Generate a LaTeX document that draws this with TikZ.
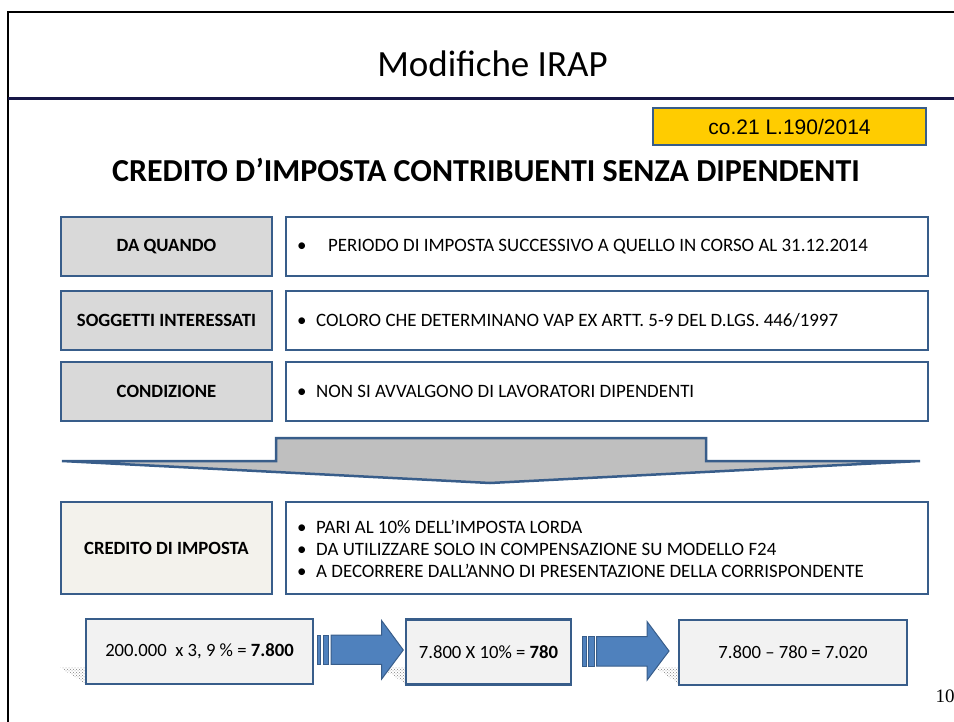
\documentclass[tikz,border=0pt]{standalone}
\usepackage{fontspec}
\setmainfont{Carlito}
\newfontfamily\arialfont{Liberation Sans}
\newfontfamily\seriffont{Liberation Serif}
\usetikzlibrary{patterns}
\definecolor{bordo}{RGB}{56,93,138}
\definecolor{lgray}{RGB}{217,217,217}
\definecolor{cream}{RGB}{243,242,236}
\definecolor{pale}{RGB}{242,242,242}
\definecolor{arrowblue}{RGB}{79,129,189}
\definecolor{chev}{RGB}{191,191,191}
\definecolor{navy}{RGB}{23,23,71}
\definecolor{yel}{RGB}{255,204,0}
\begin{document}
\begin{tikzpicture}[x=1pt,y=-1pt,
  lbox/.style={draw=bordo, line width=2.5pt, fill=lgray, minimum width=211pt, minimum height=59pt, inner sep=0pt, font=\fontsize{18.7}{22}\selectfont\bfseries},
  rbox/.style={draw=bordo, line width=2.5pt, fill=white, minimum width=642pt, minimum height=59pt, inner sep=0pt},
  rtext/.style={anchor=west, inner sep=0pt, align=left, font=\fontsize{18.9}{22}\selectfont},
  calcbox/.style={draw=bordo, line width=2.5pt, fill=pale, minimum height=65pt, inner sep=0pt, font=\fontsize{18.7}{22}\selectfont},
  barrow/.style={draw=bordo, line width=1pt, fill=arrowblue},
  shad/.style={pattern=crosshatch dots, pattern color=gray, draw=none}
]
\useasboundingbox (0,0) rectangle (954,722);
% frame
\draw[line width=2pt, black] (8,722) -- (8,12.5) -- (954,12.5);
\draw[line width=3pt, navy] (8,99) -- (954,99);
\node[font=\fontsize{37}{42}\selectfont] (title) at (492.5,64) {Modifiche IRAP};
\node[draw=bordo, line width=2pt, fill=yel, minimum width=273pt, minimum height=37pt, inner sep=0pt, font=\arialfont\fontsize{21}{24}\selectfont] (ref) at (789.5,126.5) {co.21 L.190/2014};
\node[font=\fontsize{32}{36}\selectfont\bfseries] (head) at (486,170) {CREDITO D’IMPOSTA CONTRIBUENTI SENZA DIPENDENTI};
% rows
\node[lbox] (l1) at (166.5,246.5) {DA QUANDO};
\node[rbox] (r1) at (607,246.5) {};
\node[rtext] (t1) at (297,246.5) {\makebox[31pt][l]{•}PERIODO DI IMPOSTA SUCCESSIVO A QUELLO IN CORSO AL 31.12.2014};
\node[lbox] (l2) at (166.5,320.5) {SOGGETTI INTERESSATI};
\node[rbox] (r2) at (607,320.5) {};
\node[rtext] (t2) at (297,320.5) {\makebox[19pt][l]{•}COLORO CHE DETERMINANO VAP EX ARTT. 5-9 DEL D.LGS. 446/1997};
\node[lbox] (l3) at (166.5,391.5) {CONDIZIONE};
\node[rbox] (r3) at (607,391.5) {};
\node[rtext] (t3) at (297,391.5) {\makebox[19pt][l]{•}NON SI AVVALGONO DI LAVORATORI DIPENDENTI};
% chevron
\draw[draw=bordo, line width=2.5pt, fill=chev, line join=miter] (62,461) -- (276,461) -- (276,438) -- (706,438) -- (706,461) -- (920,461) -- (490,483) -- cycle;
% credit row
\node[lbox, fill=cream, minimum height=92pt] (l4) at (166.5,548) {CREDITO DI IMPOSTA};
\node[rbox, minimum height=92pt] (r4) at (607,548) {};
\node[rtext, font=\fontsize{18.9}{22.2}\selectfont] (t4) at (297,549) {\makebox[19pt][l]{•}PARI AL 10\% DELL’IMPOSTA LORDA\\\makebox[19pt][l]{•}DA UTILIZZARE SOLO IN COMPENSAZIONE SU MODELLO F24\\\makebox[19pt][l]{•}A DECORRERE DALL’ANNO DI PRESENTAZIONE DELLA CORRISPONDENTE};
% shadows
\fill[shad] (60,667.5) -- (86,667.5) -- (86,684) -- cycle;
\fill[shad] (381,667.5) -- (406,667.5) -- (406,684) -- cycle;
\fill[shad] (655,667.5) -- (679,667.5) -- (679,684) -- cycle;
% calc boxes
\node[calcbox, minimum width=227pt] (c1) at (199.5,651.5) {200.000\ \ x 3, 9 \% = \textbf{7.800}};
\node[calcbox, minimum width=165pt] (c2) at (488.5,652) {7.800 X 10\% = \textbf{780}};
\node[calcbox, minimum width=228pt] (c3) at (793,652.5) {7.800 – 780 = 7.020};
% block arrows
\draw[barrow] (317.3,635) rectangle (320.7,664.3);
\draw[barrow] (323,635) rectangle (328.7,664.3);
\draw[barrow, line join=miter] (331,635) -- (381.7,635) -- (381.7,620.7) -- (403.3,650) -- (381.7,679) -- (381.7,664.3) -- (331,664.3) -- cycle;
\draw[barrow] (582.7,636.7) rectangle (586,666);
\draw[barrow] (588.3,636.7) rectangle (594.3,666);
\draw[barrow, line join=miter] (596.7,636.7) -- (647.2,636.7) -- (647.2,621.7) -- (669,651) -- (647.2,680) -- (647.2,666) -- (596.7,666) -- cycle;
\node[font=\seriffont\fontsize{19}{22}\selectfont] (pg) at (945,696) {10};
\end{tikzpicture}
\end{document}
